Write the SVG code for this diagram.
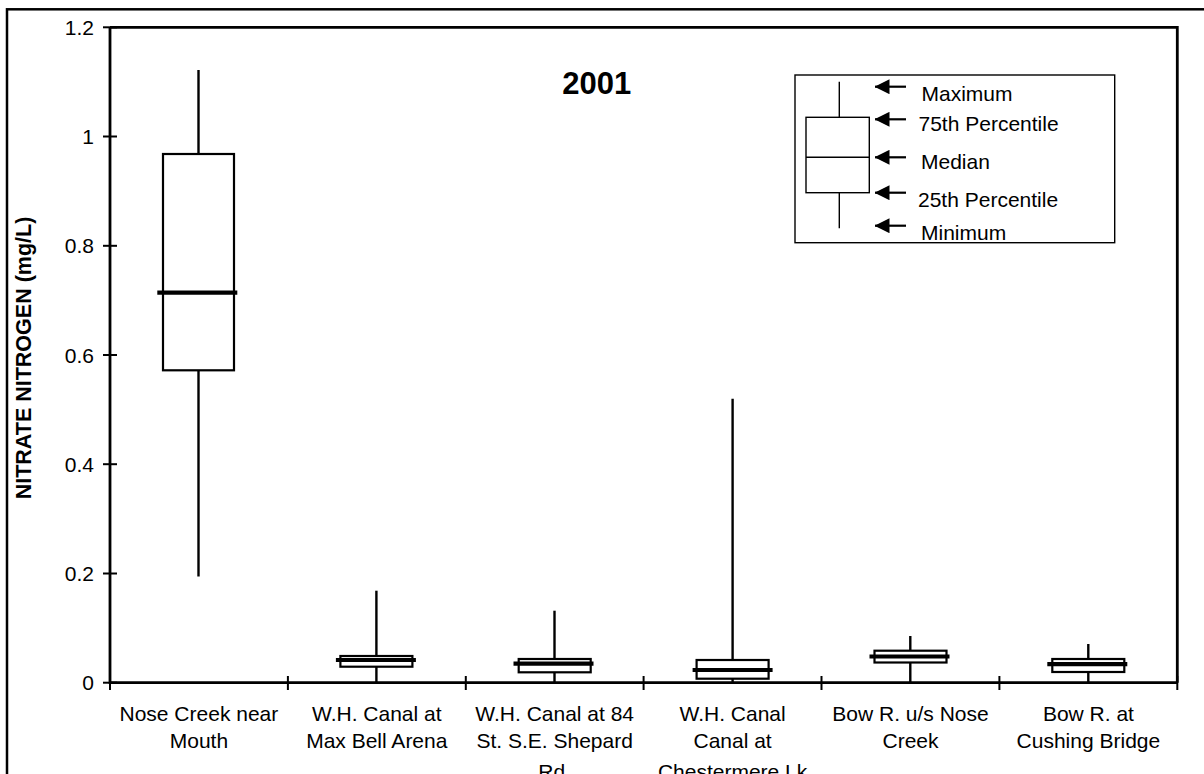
<svg xmlns="http://www.w3.org/2000/svg" width="1204" height="774" viewBox="0 0 1204 774">
  <style>
    text { font-family: "Liberation Sans", Arial, sans-serif; fill: #000; }
    .lbl { font-size: 21px; }
    .tick { font-size: 21px; text-anchor: end; }
    .cat { font-size: 21px; text-anchor: middle; }
    .ttl { font-size: 31px; font-weight: bold; text-anchor: middle; }
    .ytitle { font-size: 21.5px; font-weight: bold; text-anchor: middle; }
    .frame { fill: none; stroke: #000; stroke-width: 2.5; }
    .axis { fill: none; stroke: #000; stroke-width: 2.8; }
    .tk { stroke: #000; stroke-width: 2; }
    .box { fill: #fff; stroke: #000; stroke-width: 2.2; }
    .wh { stroke: #000; stroke-width: 2.4; }
    .med { stroke: #000; stroke-width: 4.2; }
    .lg { fill: none; stroke: #000; stroke-width: 1.4; }
    .arr { stroke: #000; stroke-width: 2.2; }
  </style>
  <defs>
    <marker id="ah" viewBox="0 0 15 15" refX="14.5" refY="7.5" markerWidth="15" markerHeight="15" markerUnits="userSpaceOnUse" orient="auto">
      <path d="M0,0 L15,7.5 L0,15 z" fill="#000"/>
    </marker>
  </defs>
  <rect width="1204" height="774" fill="#fff"/>
  <!-- outer chart border -->
  <rect class="frame" x="7" y="9.3" width="1205" height="780"/>

  <!-- plot area -->
  <g id="plot-area">
    <path class="axis" d="M110,27.3 H1177.3 V682.7"/>
    <path class="axis" d="M110,27.3 V682.7 H1177.3"/>
    <g class="tk">
      <line x1="103" y1="27.3" x2="117" y2="27.3"/>
      <line x1="103" y1="136.5" x2="117" y2="136.5"/>
      <line x1="103" y1="245.8" x2="117" y2="245.8"/>
      <line x1="103" y1="355" x2="117" y2="355"/>
      <line x1="103" y1="464.2" x2="117" y2="464.2"/>
      <line x1="103" y1="573.5" x2="117" y2="573.5"/>
      <line x1="103" y1="682.7" x2="117" y2="682.7"/>
      <line x1="110" y1="676" x2="110" y2="690"/>
      <line x1="287.9" y1="676" x2="287.9" y2="690"/>
      <line x1="465.8" y1="676" x2="465.8" y2="690"/>
      <line x1="643.6" y1="676" x2="643.6" y2="690"/>
      <line x1="821.5" y1="676" x2="821.5" y2="690"/>
      <line x1="999.4" y1="676" x2="999.4" y2="690"/>
      <line x1="1177.3" y1="676" x2="1177.3" y2="690"/>
    </g>
    <g>
      <text class="tick" x="94" y="35">1.2</text>
      <text class="tick" x="94" y="144">1</text>
      <text class="tick" x="94" y="253.3">0.8</text>
      <text class="tick" x="94" y="362.5">0.6</text>
      <text class="tick" x="94" y="471.7">0.4</text>
      <text class="tick" x="94" y="581">0.2</text>
      <text class="tick" x="94" y="690.2">0</text>
    </g>
    <text class="ytitle" transform="translate(31,358) rotate(-90)">NITRATE NITROGEN (mg/L)</text>
    <text class="ttl" x="596.7" y="94">2001</text>
  </g>

  <!-- box plots -->
  <g id="bp-nose-creek">
    <line class="wh" x1="198.5" y1="70" x2="198.5" y2="576.5"/>
    <rect class="box" x="163" y="154" width="71" height="216.3"/>
    <line class="med" x1="157.3" y1="292.7" x2="237.3" y2="292.7"/>
    <text class="cat" x="198.9" y="720.5">Nose Creek near</text>
    <text class="cat" x="198.9" y="747.5">Mouth</text>
  </g>
  <g id="bp-max-bell">
    <line class="wh" x1="376.4" y1="590.7" x2="376.4" y2="682.7"/>
    <rect class="box" x="340.4" y="656" width="72" height="10.7"/>
    <line class="med" x1="335.9" y1="660" x2="415.9" y2="660"/>
    <text class="cat" x="376.8" y="720.5">W.H. Canal at</text>
    <text class="cat" x="376.8" y="747.5">Max Bell Arena</text>
  </g>
  <g id="bp-84-st">
    <line class="wh" x1="554.5" y1="610.7" x2="554.5" y2="682.7"/>
    <rect class="box" x="518.7" y="659" width="72" height="13.3"/>
    <line class="med" x1="513.5" y1="663.7" x2="593.5" y2="663.7"/>
    <text class="cat" x="554.7" y="720.5">W.H. Canal at 84</text>
    <text class="cat" x="554.7" y="747.5">St. S.E. Shepard</text>
    <text class="cat" x="554.7" y="779">Rd.</text>
  </g>
  <g id="bp-chestermere">
    <line class="wh" x1="732.6" y1="398.7" x2="732.6" y2="682.7"/>
    <rect class="box" x="696.6" y="660" width="72" height="18.7"/>
    <line class="med" x1="692.6" y1="670" x2="772.6" y2="670"/>
    <text class="cat" x="732.6" y="720.5">W.H. Canal</text>
    <text class="cat" x="732.6" y="747.5">Canal at</text>
    <text class="cat" x="732.6" y="779">Chestermere Lk</text>
  </g>
  <g id="bp-bow-nose">
    <line class="wh" x1="910.3" y1="636" x2="910.3" y2="682.7"/>
    <rect class="box" x="874.5" y="650.7" width="72" height="11.8"/>
    <line class="med" x1="869.5" y1="656.5" x2="949.5" y2="656.5"/>
    <text class="cat" x="910.5" y="720.5">Bow R. u/s Nose</text>
    <text class="cat" x="910.5" y="747.5">Creek</text>
  </g>
  <g id="bp-cushing">
    <line class="wh" x1="1088.3" y1="644" x2="1088.3" y2="682.7"/>
    <rect class="box" x="1052.3" y="659" width="72" height="13"/>
    <line class="med" x1="1047.3" y1="664.2" x2="1127.3" y2="664.2"/>
    <text class="cat" x="1088.4" y="720.5">Bow R. at</text>
    <text class="cat" x="1088.4" y="747.5">Cushing Bridge</text>
  </g>

  <!-- legend -->
  <g id="legend">
    <rect class="lg" x="795" y="75" width="319.7" height="167.7"/>
    <line class="lg" x1="839.3" y1="81.7" x2="839.3" y2="117.3"/>
    <rect class="lg" x="806" y="117.3" width="63.3" height="75.4"/>
    <line class="lg" x1="806" y1="157.3" x2="869.3" y2="157.3"/>
    <line class="lg" x1="839.3" y1="192.7" x2="839.3" y2="228.3"/>
    <text class="lbl" x="921.5" y="100.7">Maximum</text>
    <text class="lbl" x="918.5" y="130.7">75th Percentile</text>
    <text class="lbl" x="921" y="169.3">Median</text>
    <text class="lbl" x="918" y="207.3">25th Percentile</text>
    <text class="lbl" x="921" y="240">Minimum</text>
  </g>
  <g id="connectors">
    <line class="arr" x1="906" y1="86.7" x2="875" y2="86.7" marker-end="url(#ah)"/>
    <line class="arr" x1="906" y1="119.3" x2="875" y2="119.3" marker-end="url(#ah)"/>
    <line class="arr" x1="906" y1="157.3" x2="875" y2="157.3" marker-end="url(#ah)"/>
    <line class="arr" x1="906" y1="192.7" x2="875" y2="192.7" marker-end="url(#ah)"/>
    <line class="arr" x1="906" y1="225.7" x2="875" y2="225.7" marker-end="url(#ah)"/>
  </g>
</svg>
